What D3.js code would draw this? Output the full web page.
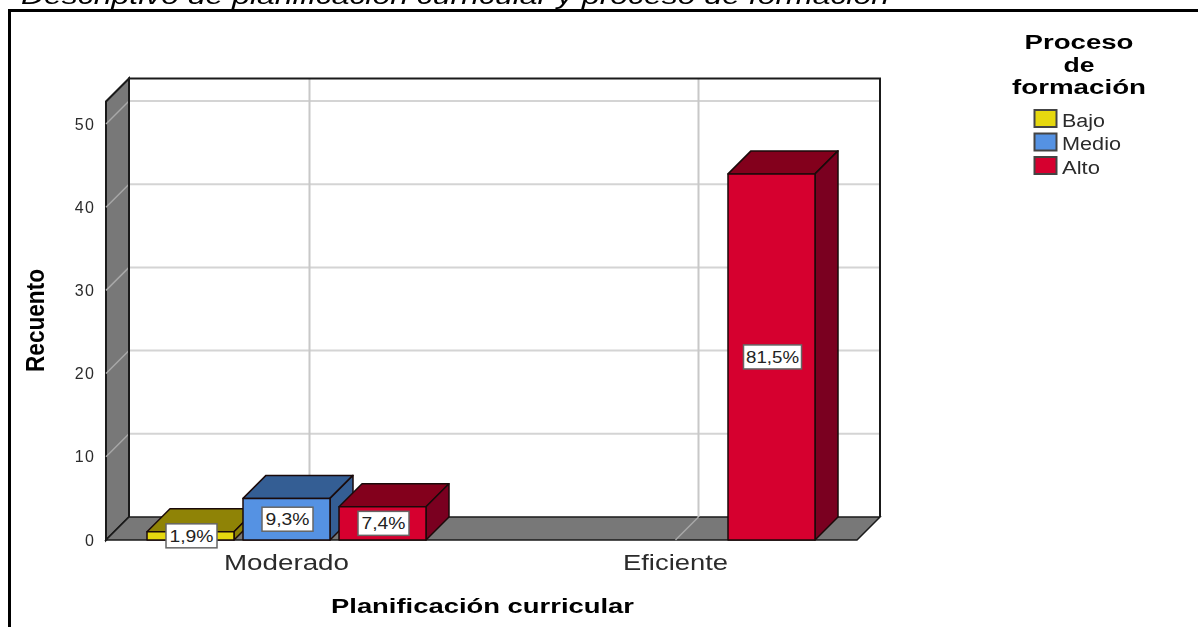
<!DOCTYPE html>
<html lang="es">
<head>
<meta charset="UTF-8">
<script src="https://d3js.org/d3.v7.min.js"></script>
<style>
  html, body { margin: 0; padding: 0; background: #fff; overflow: hidden; }
  svg { filter: blur(0.35px); }
  text { font-family: "Liberation Sans", Arial, sans-serif; }
  .axis-y text, .axis-x text { fill: #2b2b2b; }
  .axis-y path, .axis-x path { display: none; }
</style>
</head>
<body>
<script>
// data
var categories = ["Moderado", "Eficiente"];
var series = ["Bajo", "Medio", "Alto"];
var counts = {
  Bajo: [1, null],
  Medio: [5, null],
  Alto: [4, 44]
};
var percentLabels = {
  Bajo: ["1,9%", null],
  Medio: ["9,3%", null],
  Alto: ["7,4%", "81,5%"]
};
var yTicks = [0, 10, 20, 30, 40, 50];
var yTop = 52.7; // wall goes a bit past the last tick

var titleText = "Descriptivo de planificación curricular y proceso de formación";
var legendTitle = ["Proceso", "de", "formación"];

var frontColors = { Bajo: "#e6d80f", Medio: "#5592e3", Alto: "#d6002f" };
var topColors = { Bajo: "#8f8306", Medio: "#345e94", Alto: "#83001c" };
var sideColors = { Bajo: "#8f8306", Medio: "#345e94", Alto: "#7a0020" };

var width = 1198, height = 627;
var depth = 23; // 3d offset of the back wall

var svg = d3.select("body").append("svg")
  .attr("width", width)
  .attr("height", height)
  .style("display", "block");

// scales
var x = d3.scaleBand().domain(categories).range([92, 870]);
var xInner = d3.scaleBand().domain(series).range([-139.5, 139.5]).paddingInner(9 / 96);
var y = d3.scaleLinear().domain([0, yTop]).range([540, 101.5]);
var floorLeft = 106, floorRight = 857;
var line = d3.line();

// outer frame (only top and left show)
svg.append("path")
  .attr("d", line([[9.5, 640], [9.5, 10.5], [1198, 10.5]]))
  .attr("fill", "none")
  .attr("stroke", "#000")
  .attr("stroke-width", 3);

// title, cut by the top of the image
svg.append("text")
  .attr("x", 21)
  .attr("y", 4)
  .attr("font-size", 24)
  .attr("font-style", "italic")
  .attr("textLength", 868)
  .attr("lengthAdjust", "spacingAndGlyphs")
  .attr("fill", "#000")
  .text(titleText);

// back wall
svg.append("rect")
  .attr("x", floorLeft + depth)
  .attr("y", y(yTop) - depth)
  .attr("width", floorRight - floorLeft)
  .attr("height", y(0) - y(yTop))
  .attr("fill", "#fff");

// side wall and floor
svg.append("path")
  .attr("d", line([[floorLeft, y(0)], [floorLeft, y(yTop)], [floorLeft + depth, y(yTop) - depth], [floorLeft + depth, y(0) - depth]]) + "Z")
  .attr("fill", "#787878")
  .attr("stroke", "#1a1a1a")
  .attr("stroke-width", 2);

svg.append("path")
  .attr("d", line([[floorLeft, y(0)], [floorLeft + depth, y(0) - depth], [floorRight + depth, y(0) - depth], [floorRight, y(0)]]) + "Z")
  .attr("fill", "#787878")
  .attr("stroke", "#1a1a1a")
  .attr("stroke-width", 1.5);

// horizontal grid
yTicks.slice(1).forEach(function(t) {
  svg.append("line")
    .attr("x1", floorLeft + depth).attr("x2", floorRight + depth)
    .attr("y1", y(t) - depth).attr("y2", y(t) - depth)
    .attr("stroke", "#d4d4d4").attr("stroke-width", 2);
  svg.append("line")
    .attr("x1", floorLeft).attr("x2", floorLeft + depth)
    .attr("y1", y(t)).attr("y2", y(t) - depth)
    .attr("stroke", "#a8a8a8").attr("stroke-width", 1.5);
});

// vertical grid
categories.forEach(function(c) {
  var cx = x(c) + x.bandwidth() / 2;
  svg.append("line")
    .attr("x1", cx + depth).attr("x2", cx + depth)
    .attr("y1", y(yTop) - depth).attr("y2", y(0) - depth)
    .attr("stroke", "#c8c8c8").attr("stroke-width", 2);
  svg.append("line")
    .attr("x1", cx).attr("x2", cx + depth)
    .attr("y1", y(0)).attr("y2", y(0) - depth)
    .attr("stroke", "#a8a8a8").attr("stroke-width", 1.5);
});

// back wall outline
svg.append("path")
  .attr("d", line([[floorLeft + depth, y(0) - depth], [floorLeft + depth, y(yTop) - depth], [floorRight + depth, y(yTop) - depth], [floorRight + depth, y(0) - depth]]))
  .attr("fill", "none")
  .attr("stroke", "#1a1a1a")
  .attr("stroke-width", 2);

// flat list of the bars
var bars = [];
series.forEach(function(s) {
  categories.forEach(function(c, i) {
    if (counts[s][i] !== null) {
      bars.push({ series: s, category: c, value: counts[s][i], label: percentLabels[s][i] });
    }
  });
});

var barW = xInner.bandwidth();
function barLeft(d) { return x(d.category) + x.bandwidth() / 2 + xInner(d.series); }

var bar = svg.selectAll("g.bar").data(bars).enter().append("g")
  .attr("class", "bar")
  .attr("stroke", "#1a0a0a")
  .attr("stroke-width", 1.5)
  .attr("stroke-linejoin", "round");

// top face
bar.append("path")
  .attr("d", function(d) {
    var l = barLeft(d), t = y(d.value);
    return line([[l, t], [l + depth, t - depth], [l + barW + depth, t - depth], [l + barW, t]]) + "Z";
  })
  .attr("fill", function(d) { return topColors[d.series]; });

// side face
bar.append("path")
  .attr("d", function(d) {
    var l = barLeft(d) + barW, t = y(d.value);
    return line([[l, t], [l + depth, t - depth], [l + depth, y(0) - depth], [l, y(0)]]) + "Z";
  })
  .attr("fill", function(d) { return sideColors[d.series]; });

// front face
bar.append("rect")
  .attr("x", barLeft)
  .attr("y", function(d) { return y(d.value); })
  .attr("width", barW)
  .attr("height", function(d) { return y(0) - y(d.value); })
  .attr("fill", function(d) { return frontColors[d.series]; });

// percent labels, centred on the front face
var label = svg.selectAll("g.pct").data(bars).enter().append("g")
  .attr("class", "pct")
  .attr("transform", function(d) {
    return "translate(" + (barLeft(d) + barW / 2 + 1) + "," + (y(d.value / 2)) + ")";
  });

label.append("rect")
  .attr("x", function(d) { return d.label.length > 4 ? -29 : -25.5; })
  .attr("y", -12)
  .attr("width", function(d) { return d.label.length > 4 ? 58 : 51; })
  .attr("height", 24)
  .attr("fill", "#fff")
  .attr("stroke", "#666")
  .attr("stroke-width", 1.5);

label.append("text")
  .attr("text-anchor", "middle")
  .attr("y", 6)
  .attr("font-size", 17)
  .attr("fill", "#222")
  .attr("textLength", function(d) { return d.label.length > 4 ? 53 : 44; })
  .attr("lengthAdjust", "spacingAndGlyphs")
  .text(function(d) { return d.label; });

// axes
var yAxis = svg.append("g")
  .attr("class", "axis-y")
  .attr("transform", "translate(" + floorLeft + ",0)")
  .call(d3.axisLeft(y).tickValues(yTicks).tickSize(0).tickPadding(11));
yAxis.selectAll("text")
  .attr("font-size", 16)
  .attr("letter-spacing", 1.2)
  .style("font-family", '"Liberation Sans", Arial, sans-serif');

var xAxis = svg.append("g")
  .attr("class", "axis-x")
  .attr("transform", "translate(0," + y(0) + ")")
  .call(d3.axisBottom(x).tickSize(0).tickPadding(0));
xAxis.selectAll("text")
  .attr("y", 30)
  .attr("dy", 0)
  .attr("font-size", 22)
  .attr("textLength", function(d) { return d === "Moderado" ? 125 : 105; })
  .attr("lengthAdjust", "spacingAndGlyphs")
  .style("font-family", '"Liberation Sans", Arial, sans-serif');

// axis titles
svg.append("text")
  .attr("x", 482.5)
  .attr("y", 613)
  .attr("text-anchor", "middle")
  .attr("font-size", 20)
  .attr("font-weight", "bold")
  .attr("textLength", 303)
  .attr("lengthAdjust", "spacingAndGlyphs")
  .text("Planificación curricular");

svg.append("text")
  .attr("transform", "translate(44,320.5)rotate(-90)")
  .attr("text-anchor", "middle")
  .attr("font-size", 25)
  .attr("font-weight", "bold")
  .attr("textLength", 103)
  .attr("lengthAdjust", "spacingAndGlyphs")
  .text("Recuento");

// legend
var legendWidths = { Proceso: 109, de: 31, "formación": 134 };
svg.selectAll("text.legend-title").data(legendTitle).enter().append("text")
  .attr("class", "legend-title")
  .attr("x", 1079)
  .attr("y", function(d, i) { return 49 + i * 22.5; })
  .attr("text-anchor", "middle")
  .attr("font-size", 20)
  .attr("font-weight", "bold")
  .attr("textLength", function(d) { return legendWidths[d]; })
  .attr("lengthAdjust", "spacingAndGlyphs")
  .text(function(d) { return d; });

var legendY = d3.scalePoint().domain(series).range([110, 157]);
var legendTextWidths = { Bajo: 43, Medio: 59, Alto: 38 };
var legend = svg.selectAll("g.legend").data(series).enter().append("g")
  .attr("class", "legend")
  .attr("transform", function(d) { return "translate(1034.5," + legendY(d) + ")"; });

legend.append("rect")
  .attr("width", 22)
  .attr("height", 17)
  .attr("fill", function(d) { return frontColors[d]; })
  .attr("stroke", "#444")
  .attr("stroke-width", 2);

legend.append("text")
  .attr("x", 27.5)
  .attr("y", 16.5)
  .attr("font-size", 18)
  .attr("fill", "#2b2b2b")
  .attr("textLength", function(d) { return legendTextWidths[d]; })
  .attr("lengthAdjust", "spacingAndGlyphs")
  .text(function(d) { return d; });
</script>
</body>
</html>
